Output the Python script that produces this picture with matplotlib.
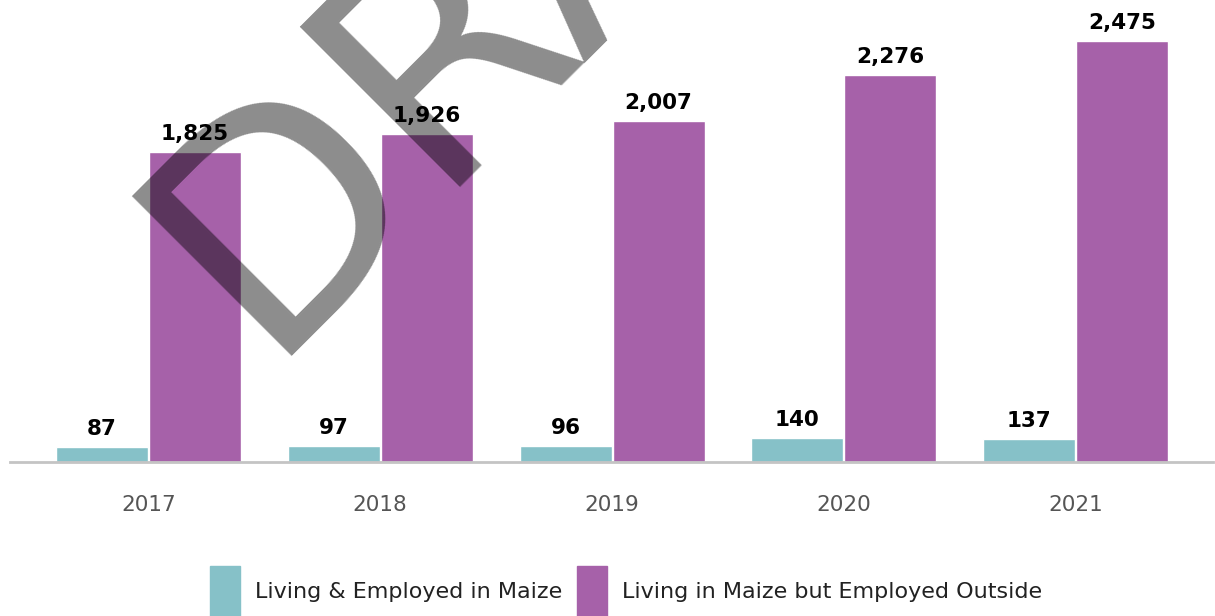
import matplotlib
matplotlib.use("Agg")
import matplotlib.pyplot as plt
from matplotlib.patches import Rectangle

# commuting counts by year
years = ["2017", "2018", "2019", "2020", "2021"]
inside = [87, 97, 96, 140, 137]
outside = [1825, 1926, 2007, 2276, 2475]
series_names = ["Living & Employed in Maize", "Living in Maize but Employed Outside"]

TEAL = "#86c1c8"
PURPLE = "#a661a9"

W, H = 1215, 616
fig = plt.figure(figsize=(W / 100, H / 100), dpi=100)

# plot area in pixels: left 10, right 1213, baseline at 462
x0, x1 = 10, 1213
y_base = 462
ax = fig.add_axes([x0 / W, 1 - y_base / H, (x1 - x0) / W, y_base / H])

step = 231.75
c0 = 148.5
ax.set_xlim((x0 - c0) / step, (x1 - c0) / step)
px_per_unit = 421 / 2475
ax.set_ylim(0, y_base / px_per_unit)

xs = list(range(len(years)))
off = 46.5 / step
bw = 92 / step
b1 = ax.bar([x - off for x in xs], inside, width=bw, color=TEAL,
            edgecolor="white", linewidth=1)
b2 = ax.bar([x + off for x in xs], outside, width=bw, color=PURPLE,
            edgecolor="white", linewidth=1)

for bars, vals in ((b1, inside), (b2, outside)):
    for rect, v in zip(bars, vals):
        ax.annotate(f"{v:,}", (rect.get_x() + rect.get_width() / 2, v),
                    xytext=(0, 8), textcoords="offset pixels",
                    ha="center", va="bottom", fontsize=15.5,
                    fontweight="bold", color="black")

for s in ("top", "right", "left"):
    ax.spines[s].set_visible(False)
ax.spines["bottom"].set_color("#c4c4c4")
ax.spines["bottom"].set_linewidth(2)
ax.set_yticks([])
ax.set_xticks(xs)
ax.set_xticklabels(years, fontsize=15.5, color="#555555")
ax.tick_params(axis="x", length=0, pad=24)

# legend drawn by hand at the bottom
leg_items = [(210, 255, TEAL, series_names[0]),
             (577, 622, PURPLE, series_names[1])]
for sx, tx, col, name in leg_items:
    fig.patches.append(Rectangle((sx / W, 0), 30 / W, (H - 566) / H,
                                 transform=fig.transFigure, color=col))
    fig.text(tx / W, 1 - 592 / H, name, fontsize=16, color="#222222",
             ha="left", va="center")

# watermark
fig.text(261 / W, 1 - 356 / H, "DRAFT", fontsize=224, color="black",
         alpha=0.45, rotation=45, rotation_mode="anchor",
         ha="left", va="baseline", zorder=10)

fig.savefig("out.png", dpi=100)
